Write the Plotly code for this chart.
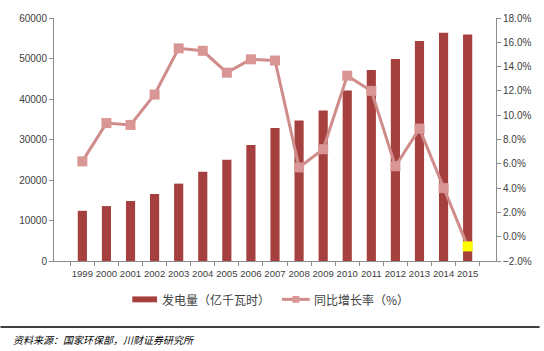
import plotly.graph_objects as go

years = [str(y) for y in range(1999, 2016)]
generation = [12393, 13556, 14808, 16540, 19106, 22033, 25003, 28657, 32816,
              34669, 37147, 42072, 47130, 49876, 54316, 56350, 55900]
growth = [6.2, 9.35, 9.2, 11.7, 15.5, 15.3, 13.5, 14.6, 14.5,
          5.7, 7.2, 13.25, 12.0, 5.8, 8.9, 4.0, -0.8]

bar_name = "发电量（亿千瓦时）"
line_name = "同比增长率（%）"
source_text = "资料来源：国家环保部，川财证券研究所"

BAR_C = "#A5403E"
LINE_C = "#D08C8B"
MARK_C = "#D99694"
marker_colors = [MARK_C] * (len(years) - 1) + ["#FFFF00"]

W, H = 544, 351
L, R, T, B = 54, 44, 14, 90
pw, ph = W - L - R, H - T - B

def px(x):
    return (x - L) / pw

def py(y):
    return (H - B - y) / ph

fig = go.Figure()
fig.add_trace(go.Bar(x=years, y=generation, name=bar_name, marker_color=BAR_C,
                     marker_line_width=0, yaxis="y"))
fig.add_trace(go.Scatter(x=years, y=growth, name=line_name, yaxis="y2",
                         mode="lines+markers",
                         line=dict(color=LINE_C, width=3),
                         marker=dict(symbol="square", size=10, color=marker_colors,
                                     line=dict(width=0))))

tickfont = dict(family="Liberation Sans", size=10, color="#404040")
xtickfont = dict(family="Liberation Sans", size=9.6, color="#404040")
axcol = "#8C8C8C"

fig.update_layout(
    width=W, height=H,
    margin=dict(l=L, r=R, t=T, b=B),
    paper_bgcolor="white", plot_bgcolor="white",
    showlegend=False,
    bargap=0.62,
    xaxis=dict(type="category", showline=True, linecolor=axcol, linewidth=1,
               ticks="outside", ticklen=4, tickcolor=axcol, tickson="boundaries",
               tickfont=xtickfont, showgrid=False, zeroline=False, tickangle=0,
               ticklabelstandoff=3),
    yaxis=dict(range=[0, 60000], dtick=10000, showline=True, linecolor=axcol,
               linewidth=1, ticks="outside", ticklen=4, tickcolor=axcol,
               tickfont=tickfont, showgrid=False, zeroline=False, tickformat="d"),
    yaxis2=dict(range=[-2, 18], dtick=2, overlaying="y", side="right",
                showline=True, linecolor=axcol, linewidth=1, ticks="outside",
                ticklen=4, tickcolor=axcol, tickfont=tickfont, showgrid=False,
                zeroline=False, tickformat=".1f", ticksuffix="%"),
)

# custom legend
ly = 300
fig.add_shape(type="rect", xref="paper", yref="paper",
              x0=px(133), x1=px(158), y0=py(303), y1=py(297),
              fillcolor=BAR_C, line_width=0)
fig.add_annotation(xref="paper", yref="paper", x=px(161), y=py(ly), xanchor="left",
                   yanchor="middle", text=bar_name, showarrow=False,
                   font=dict(family="Noto Sans CJK SC", size=12, color="#404040"))
fig.add_shape(type="line", xref="paper", yref="paper",
              x0=px(284), x1=px(312), y0=py(ly), y1=py(ly),
              line=dict(color=LINE_C, width=3))
fig.add_shape(type="rect", xref="paper", yref="paper",
              x0=px(294.5), x1=px(301.5), y0=py(303.5), y1=py(296.5),
              fillcolor=MARK_C, line_width=0)
fig.add_annotation(xref="paper", yref="paper", x=px(314), y=py(ly), xanchor="left",
                   yanchor="middle", text=line_name, showarrow=False,
                   font=dict(family="Noto Sans CJK SC", size=12, color="#404040"))

# separator line and source
fig.add_shape(type="line", xref="paper", yref="paper",
              x0=px(0), x1=px(W), y0=py(328), y1=py(328),
              line=dict(color="black", width=1.5))
fig.add_annotation(xref="paper", yref="paper", x=px(11), y=py(341), xanchor="left",
                   yanchor="middle", text=source_text, showarrow=False,
                   font=dict(family="Noto Sans CJK SC", size=10, color="#000000",
                             style="italic"))

fig.write_html("out.html")
